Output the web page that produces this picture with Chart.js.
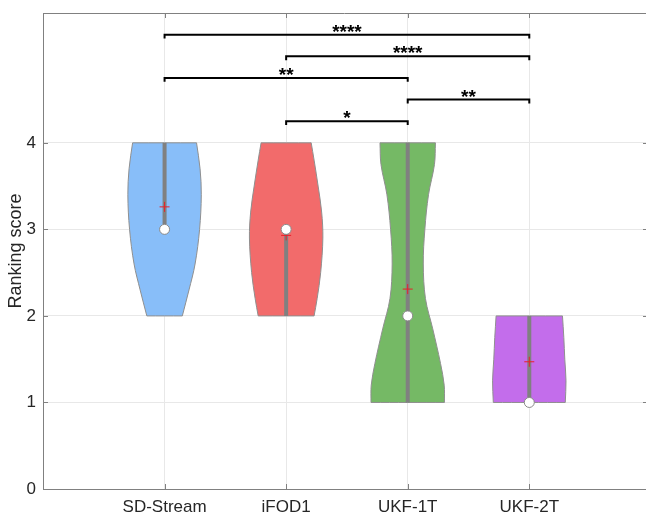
<!DOCTYPE html>
<html><head><meta charset="utf-8">
<script src="https://cdn.jsdelivr.net/npm/chart.js@4"></script>
<style>
html,body{margin:0;padding:0;background:#fff;overflow:hidden;width:646px;height:514px}
#wrap{width:646px;height:514px}
</style></head>
<body><div id="wrap"><canvas id="c" width="646" height="514"></canvas></div>
<script>
// ---- data ----
const categories = ['SD-Stream', 'iFOD1', 'UKF-1T', 'UKF-2T'];
const yTicks = [0, 1, 2, 3, 4];
const violinColors = ['#88BEF9', '#F26B6B', '#75B965', '#C36DEB'];

// violin outlines: score level -> half width (x-axis units)
const sdLevels = [2.0, 2.3, 2.6, 3.0, 3.4, 3.7, 4.0];
const sdHalfWidth = [0.146, 0.201, 0.251, 0.288, 0.302, 0.292, 0.263];
const ifodLevels = [2.0, 2.2, 2.5, 2.9, 3.2, 3.5, 3.8, 4.0];
const ifodHalfWidth = [0.230, 0.255, 0.284, 0.302, 0.292, 0.263, 0.230, 0.206];
const ukf1Levels = [1.0, 1.2, 1.45, 1.85, 2.2, 2.6, 3.0, 3.4, 3.75, 4.0];
const ukf1HalfWidth = [0.302, 0.300, 0.270, 0.206, 0.146, 0.128, 0.141, 0.171, 0.220, 0.228];
const ukf2Levels = [1.0, 1.25, 1.5, 1.75, 2.0];
const ukf2HalfWidth = [0.296, 0.302, 0.292, 0.284, 0.273];

const medians = [3, 3, 2, 1];
const means = [3.26, 2.93, 2.31, 1.47];
const q1 = [3, 2, 1, 1];
const q3 = [4, 3, 4, 2];

// significance brackets (category numbers 1..4)
const bracketFrom = [1, 2, 1, 3, 2];
const bracketTo = [4, 4, 3, 4, 3];
const bracketHeight = [5.25, 5.0, 4.75, 4.5, 4.25];
const bracketLabel = ['****', '****', '**', '**', '*'];

// ---- build datasets ----
const levelsAll = [sdLevels, ifodLevels, ukf1Levels, ukf2Levels];
const halfAll = [sdHalfWidth, ifodHalfWidth, ukf1HalfWidth, ukf2HalfWidth];

function violinOutline(cx, lv, hw) {
  const n = lv.length, pts = [];
  pts.push({x: cx, y: lv[0]});
  pts.push({x: cx - hw[0], y: lv[0]});
  for (let i = 0; i < n; i++) pts.push({x: cx - hw[i], y: lv[i]});
  pts.push({x: cx - hw[n-1], y: lv[n-1]});
  pts.push({x: cx + hw[n-1], y: lv[n-1]});
  for (let i = n - 1; i >= 0; i--) pts.push({x: cx + hw[i], y: lv[i]});
  pts.push({x: cx + hw[0], y: lv[0]});
  pts.push({x: cx, y: lv[0]});
  return pts;
}

const datasets = [];
categories.forEach((c, i) => {
  const cx = i + 1;
  datasets.push({
    type: 'line', label: c,
    data: violinOutline(cx, levelsAll[i], halfAll[i]),
    borderColor: '#8f8f8f', borderWidth: 1,
    backgroundColor: violinColors[i],
    fill: 'shape', tension: 0.35, pointRadius: 0, order: 10
  });
  datasets.push({
    type: 'line', label: c + ' IQR',
    data: [{x: cx, y: q1[i]}, {x: cx, y: q3[i]}],
    borderColor: '#808080', borderWidth: 4, borderCapStyle: 'butt',
    pointRadius: 0, fill: false, order: 5
  });
});
datasets.push({
  type: 'scatter', label: 'mean',
  data: means.map((m, i) => ({x: i + 1, y: m})),
  pointStyle: 'cross', pointRadius: 5, borderColor: '#E8202A', borderWidth: 1,
  backgroundColor: '#E8202A', order: 3
});
datasets.push({
  type: 'scatter', label: 'median',
  data: medians.map((m, i) => ({x: i + 1, y: m})),
  pointStyle: 'circle', pointRadius: 5, borderColor: '#8a8a8a', borderWidth: 1,
  backgroundColor: '#ffffff', order: 2
});
bracketFrom.forEach((f, i) => {
  const t = bracketTo[i], h = bracketHeight[i];
  datasets.push({
    type: 'line', label: 'bracket' + i,
    data: [{x: f, y: h - 0.045}, {x: f, y: h}, {x: t, y: h}, {x: t, y: h - 0.045}],
    borderColor: '#000', borderWidth: 2, pointRadius: 0, fill: false,
    tension: 0, borderJoinStyle: 'miter', order: 1
  });
});

const FONT = "'Liberation Sans', Arial, Helvetica, sans-serif";

const starsPlugin = {
  id: 'stars',
  afterDatasetsDraw(chart) {
    const {ctx, scales: {x, y}} = chart;
    ctx.save();
    ctx.fillStyle = '#000';
    ctx.font = 'bold 19px ' + FONT;
    ctx.textAlign = 'center';
    ctx.textBaseline = 'alphabetic';
    bracketLabel.forEach((lab, i) => {
      const mid = (bracketFrom[i] + bracketTo[i]) / 2;
      ctx.fillText(lab, x.getPixelForValue(mid), y.getPixelForValue(bracketHeight[i]) + 3);
    });
    ctx.restore();
  }
};

// top border and inward tick marks (the right axis lies just outside the picture)
const boxPlugin = {
  id: 'box',
  afterDraw(chart) {
    const {ctx, chartArea: a, scales: {x, y}} = chart;
    ctx.save();
    ctx.strokeStyle = '#808080';
    ctx.lineWidth = 1;
    ctx.beginPath();
    ctx.moveTo(a.left, a.top + 0.5); ctx.lineTo(a.right, a.top + 0.5);
    x.ticks.forEach(t => {
      const px = Math.round(x.getPixelForValue(t.value)) + 0.5;
      ctx.moveTo(px, a.bottom); ctx.lineTo(px, a.bottom - 5);
      ctx.moveTo(px, a.top); ctx.lineTo(px, a.top + 5);
    });
    y.ticks.forEach(t => {
      const py = Math.round(y.getPixelForValue(t.value)) + 0.5;
      ctx.moveTo(a.left, py); ctx.lineTo(a.left + 5, py);
      ctx.moveTo(a.right, py); ctx.lineTo(a.right - 3, py);
    });
    ctx.stroke();
    ctx.restore();
  }
};

function zeroPad(s) { s.paddingLeft = 0; s.paddingRight = 0; s.paddingTop = 0; s.paddingBottom = 0; }

new Chart(document.getElementById('c'), {
  type: 'scatter',
  data: {datasets},
  options: {
    responsive: false, animation: false,
    layout: {autoPadding: false, padding: {top: 13, right: 0, left: 0, bottom: 0}},
    plugins: {legend: {display: false}, tooltip: {enabled: false}},
    scales: {
      x: {
        type: 'linear', min: 0, max: 4.96,
        afterBuildTicks: s => { s.ticks = categories.map((c, i) => ({value: i + 1})); },
        afterFit: s => { s.height = 25; zeroPad(s); },
        ticks: {
          callback: v => categories[v - 1] || '',
          color: '#262626', font: {family: FONT, size: 17}, padding: 8, maxRotation: 0
        },
        grid: {color: '#e8e8e8', drawTicks: false},
        border: {display: true, color: '#808080', width: 1}
      },
      y: {
        type: 'linear', min: 0, max: 5.5,
        afterBuildTicks: s => { s.ticks = yTicks.map(v => ({value: v})); },
        afterFit: s => { s.width = 43; zeroPad(s); },
        ticks: {color: '#262626', font: {family: FONT, size: 17}, padding: 7},
        grid: {color: '#e8e8e8', drawTicks: false},
        border: {display: true, color: '#808080', width: 1},
        title: {display: true, text: 'Ranking score', color: '#262626',
                font: {family: FONT, size: 18}, padding: {top: 5, bottom: 0}}
      }
    }
  },
  plugins: [starsPlugin, boxPlugin]
});
</script>
</body></html>
